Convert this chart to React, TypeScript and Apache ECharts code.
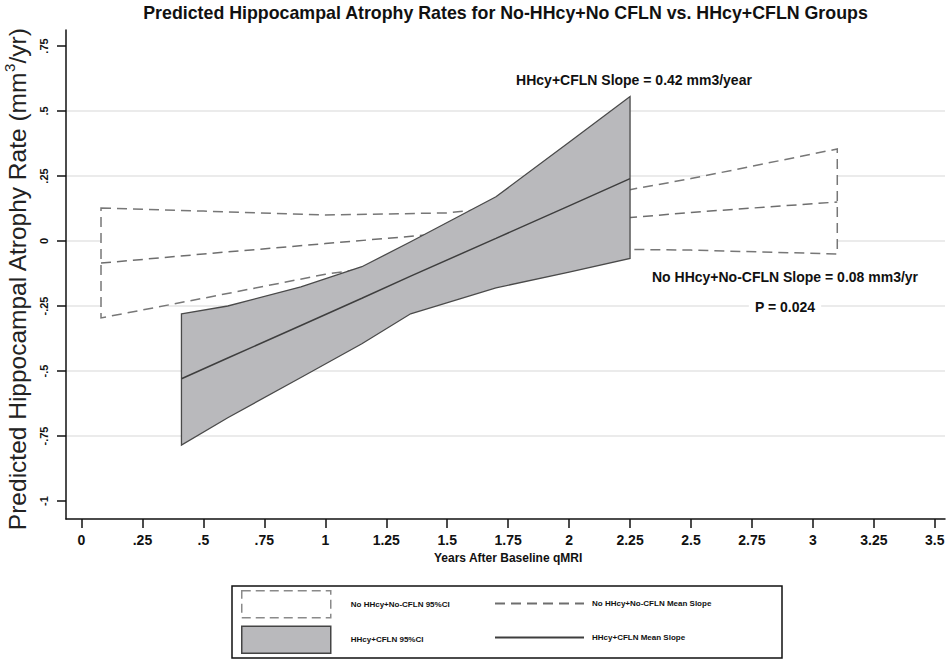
import React, { useEffect, useRef } from "react";
import * as echarts from "echarts";

const FONT = '"Liberation Sans", Arial, Helvetica, sans-serif';

// Tick values
const xTicks = [0, 0.25, 0.5, 0.75, 1, 1.25, 1.5, 1.75, 2, 2.25, 2.5, 2.75, 3, 3.25, 3.5];
const yTicks = [-1, -0.75, -0.5, -0.25, 0, 0.25, 0.5, 0.75];

// No HHcy + No-CFLN group
const noX = [0.08, 0.5, 1.0, 1.5, 2.0, 2.5, 3.1];
const noMean = [-0.085, -0.05, -0.01, 0.03, 0.07, 0.11, 0.15];
const noUpper = [0.127, 0.115, 0.1, 0.108, 0.155, 0.24, 0.354];
const noLower = [-0.296, -0.22, -0.128, -0.06, -0.03, -0.035, -0.05];

// HHcy + CFLN group
const hhX = [0.41, 0.6, 0.9, 1.15, 1.35, 1.7, 2.0, 2.25];
const hhMean = [-0.53, -0.45, -0.325, -0.22, -0.135, 0.01, 0.135, 0.24];
const hhUpper = [-0.28, -0.25, -0.176, -0.099, -0.003, 0.17, 0.38, 0.556];
const hhLower = [-0.785, -0.68, -0.525, -0.395, -0.28, -0.18, -0.12, -0.067];

const NAME_NO_CI = "No HHcy+No-CFLN 95%CI";
const NAME_NO_MEAN = "No HHcy+No-CFLN Mean Slope";
const NAME_HH_CI = "HHcy+CFLN 95%CI";
const NAME_HH_MEAN = "HHcy+CFLN Mean Slope";

const TITLE = "Predicted Hippocampal Atrophy Rates for No-HHcy+No CFLN vs. HHcy+CFLN Groups";
const NOTE_HH = "HHcy+CFLN Slope = 0.42 mm3/year";
const NOTE_NO = "No HHcy+No-CFLN Slope = 0.08 mm3/yr";
const NOTE_P = "P = 0.024";

// layout (pixels)
const PX_PER_X = 243.8;
const X0_PX = 81.5;
const PX_PER_Y = 260;
const Y0_PX = 241;
const PLOT_LEFT = 66;
const PLOT_RIGHT_PX = 945;
const PLOT_TOP = 30;
const PLOT_BOTTOM_PX = 519;
const W = 948;
const H = 662;

const XMIN = (PLOT_LEFT - X0_PX) / PX_PER_X;
const XMAX = (PLOT_RIGHT_PX - X0_PX) / PX_PER_X;
const YMIN = (Y0_PX - PLOT_BOTTOM_PX) / PX_PER_Y;
const YMAX = (Y0_PX - PLOT_TOP) / PX_PER_Y;

const fmt = (v: number) => {
  if (v === 0) return "0";
  const s = String(v);
  return s.replace(/^(-?)0\./, "$1.");
};

function bandRenderer(xs: number[], lo: number[], hi: number[], style: any) {
  return (params: any, api: any) => {
    if (params.dataIndex !== 0) return null;
    const pts: number[][] = [];
    for (let i = 0; i < xs.length; i++) pts.push(api.coord([xs[i], hi[i]]));
    for (let i = xs.length - 1; i >= 0; i--) pts.push(api.coord([xs[i], lo[i]]));
    return { type: "polygon", shape: { points: pts }, style };
  };
}

export default function App() {
  const ref = useRef<HTMLDivElement>(null);
  useEffect(() => {
    document.body.style.margin = "0";
    const chart = echarts.init(ref.current!, null, { renderer: "svg" });
    const gridColor = "#e4e4e4";
    const splitColors = yTicks.map((v, i) =>
      i === 0 || i === yTicks.length - 1 ? "rgba(0,0,0,0)" : gridColor
    );
    const legendCommon = {
      orient: "vertical",
      padding: 0,
      itemWidth: 89,
      itemHeight: 27,
      selectedMode: false,
    };
    const legendTextBase = { fontSize: 8, fontWeight: "bold", color: "#111", fontFamily: FONT };
    const hiddenSymbol = { color: "rgba(0,0,0,0)", borderColor: "rgba(0,0,0,0)", borderWidth: 0 };
    chart.setOption({
      animation: false,
      backgroundColor: "#ffffff",
      textStyle: { fontFamily: FONT },
      title: {
        text: TITLE,
        left: (PLOT_LEFT + PLOT_RIGHT_PX) / 2,
        top: 4,
        textAlign: "center",
        padding: 0,
        textStyle: { fontSize: 17.8, fontWeight: "bold", color: "#111", fontFamily: FONT },
      },
      grid: [
        {
          left: PLOT_LEFT,
          right: W - PLOT_RIGHT_PX,
          top: PLOT_TOP,
          bottom: H - PLOT_BOTTOM_PX,
          outerBoundsMode: "none",
          containLabel: false,
        },
        {
          left: PLOT_LEFT,
          right: W - PLOT_RIGHT_PX,
          top: Y0_PX - 0.75 * PX_PER_Y,
          bottom: H - (Y0_PX + 1 * PX_PER_Y),
          outerBoundsMode: "none",
          containLabel: false,
        },
        {
          left: X0_PX,
          right: W - (X0_PX + 3.5 * PX_PER_X),
          top: PLOT_TOP,
          bottom: H - PLOT_BOTTOM_PX,
          outerBoundsMode: "none",
          containLabel: false,
        },
      ],
      xAxis: [
        {
          gridIndex: 0,
          type: "value",
          min: XMIN,
          max: XMAX,
          axisLine: { show: true, onZero: false, lineStyle: { color: "#111", width: 1.5 } },
          axisTick: { show: false },
          axisLabel: { show: false },
          splitLine: { show: false },
        },
        { gridIndex: 1, type: "value", min: 0, max: 1, show: false },
        {
          gridIndex: 2,
          type: "value",
          min: xTicks[0],
          max: xTicks[xTicks.length - 1],
          interval: 0.25,
          axisLine: { show: false, onZero: false },
          axisTick: { show: true, length: 9, lineStyle: { color: "#111", width: 1.5 } },
          axisLabel: {
            show: true,
            fontSize: 14,
            fontWeight: "bold",
            color: "#111",
            margin: 14,
            formatter: (v: number) => fmt(v),
            fontFamily: FONT,
          },
          splitLine: { show: false },
          name: "Years After Baseline qMRI",
          nameLocation: "middle",
          nameGap: 31,
          nameTextStyle: { fontSize: 12, fontWeight: "bold", color: "#111", fontFamily: FONT },
        },
      ],
      yAxis: [
        {
          gridIndex: 0,
          type: "value",
          min: YMIN,
          max: YMAX,
          axisLine: { show: true, onZero: false, lineStyle: { color: "#111", width: 1.5 } },
          axisTick: { show: false },
          axisLabel: { show: false },
          splitLine: { show: false },
          name: "Predicted Hippocampal Atrophy Rate (mm{sup|3}/yr)",
          nameLocation: "middle",
          nameRotate: 90,
          nameGap: 34,
          nameTextStyle: {
            fontSize: 24.5,
            color: "#222",
            lineHeight: 30,
            padding: [0, 10, 0, 0],
            fontFamily: FONT,
            rich: { sup: { fontSize: 15, lineHeight: 16, verticalAlign: "top", color: "#222", fontFamily: FONT } },
          },
        },
        {
          gridIndex: 1,
          type: "value",
          min: yTicks[0],
          max: yTicks[yTicks.length - 1],
          interval: 0.25,
          axisLine: { show: false, onZero: false },
          axisTick: { show: true, length: 9, lineStyle: { color: "#111", width: 1.5 } },
          axisLabel: {
            show: true,
            rotate: 90,
            fontSize: 11,
            fontWeight: "bold",
            color: "#111",
            margin: 17,
            formatter: (v: number) => fmt(v),
            fontFamily: FONT,
          },
          splitLine: { show: true, lineStyle: { color: splitColors, width: 1.5 } },
        },
        { gridIndex: 2, type: "value", min: 0, max: 1, show: false },
      ],
      legend: [
        {
          ...legendCommon,
          left: 241,
          top: 590,
          itemGap: 7,
          textStyle: { ...legendTextBase, padding: [0, 0, 0, 15] },
          data: [
            {
              name: NAME_NO_CI,
              icon: "rect",
              itemStyle: { color: "#ffffff", borderColor: "#8a8a8a", borderWidth: 1.5, borderType: [9, 5] },
            },
            {
              name: NAME_HH_CI,
              icon: "rect",
              itemStyle: { color: "#b9b9bc", borderColor: "#444", borderWidth: 1.5, borderType: "solid" },
            },
          ],
        },
        {
          ...legendCommon,
          left: 494,
          top: 592.7,
          itemGap: 12.4,
          textStyle: { ...legendTextBase, padding: [0, 0, 0, 3] },
          data: [
            { name: NAME_NO_MEAN, itemStyle: hiddenSymbol },
            { name: NAME_HH_MEAN, itemStyle: hiddenSymbol },
          ],
        },
      ],
      graphic: [
        {
          type: "rect",
          z: 0,
          silent: true,
          shape: { x: 232, y: 586, width: 550, height: 72 },
          style: { fill: "none", stroke: "#111", lineWidth: 1.5 },
        },
        {
          type: "text",
          z: 50,
          x: 634,
          y: 80,
          style: {
            text: NOTE_HH,
            font: `bold 14px ${FONT}`,
            fill: "#111",
            textAlign: "center",
            textVerticalAlign: "middle",
          },
        },
        {
          type: "text",
          z: 50,
          x: 785,
          y: 277,
          style: {
            text: NOTE_NO,
            font: `bold 14px ${FONT}`,
            fill: "#111",
            textAlign: "center",
            textVerticalAlign: "middle",
          },
        },
        {
          type: "text",
          z: 50,
          x: 785,
          y: 307,
          style: {
            text: NOTE_P,
            font: `bold 14px ${FONT}`,
            fill: "#111",
            textAlign: "center",
            textVerticalAlign: "middle",
            backgroundColor: "#ffffff",
            padding: [2, 6],
          },
        },
      ],
      series: [
        {
          type: "custom",
          name: NAME_NO_CI,
          xAxisIndex: 0,
          yAxisIndex: 0,
          z: 2,
          silent: true,
          data: noX.map((x, i) => [x, noLower[i], noUpper[i]]),
          encode: { x: 0, y: [1, 2] },
          renderItem: bandRenderer(noX, noLower, noUpper, {
            fill: "#ffffff",
            stroke: "#777777",
            lineWidth: 1.5,
            lineDash: [10, 6],
          }),
        },
        {
          type: "line",
          name: NAME_NO_MEAN,
          xAxisIndex: 0,
          yAxisIndex: 0,
          z: 3,
          silent: true,
          symbol: "none",
          data: noX.map((x, i) => [x, noMean[i]]),
          itemStyle: { color: "#6e6e6e" },
          lineStyle: { color: "#6e6e6e", width: 1.5, type: [10, 6] },
        },
        {
          type: "custom",
          name: NAME_HH_CI,
          xAxisIndex: 0,
          yAxisIndex: 0,
          z: 4,
          silent: true,
          data: hhX.map((x, i) => [x, hhLower[i], hhUpper[i]]),
          encode: { x: 0, y: [1, 2] },
          renderItem: bandRenderer(hhX, hhLower, hhUpper, {
            fill: "#b9b9bc",
            stroke: "#4a4a4a",
            lineWidth: 1.3,
          }),
        },
        {
          type: "line",
          name: NAME_HH_MEAN,
          xAxisIndex: 0,
          yAxisIndex: 0,
          z: 5,
          silent: true,
          symbol: "none",
          data: hhX.map((x, i) => [x, hhMean[i]]),
          itemStyle: { color: "#3e3e3e" },
          lineStyle: { color: "#3e3e3e", width: 1.5, type: "solid" },
        },
      ],
    });
    return () => chart.dispose();
  }, []);
  return <div ref={ref} style={{ width: W, height: H }} />;
}
